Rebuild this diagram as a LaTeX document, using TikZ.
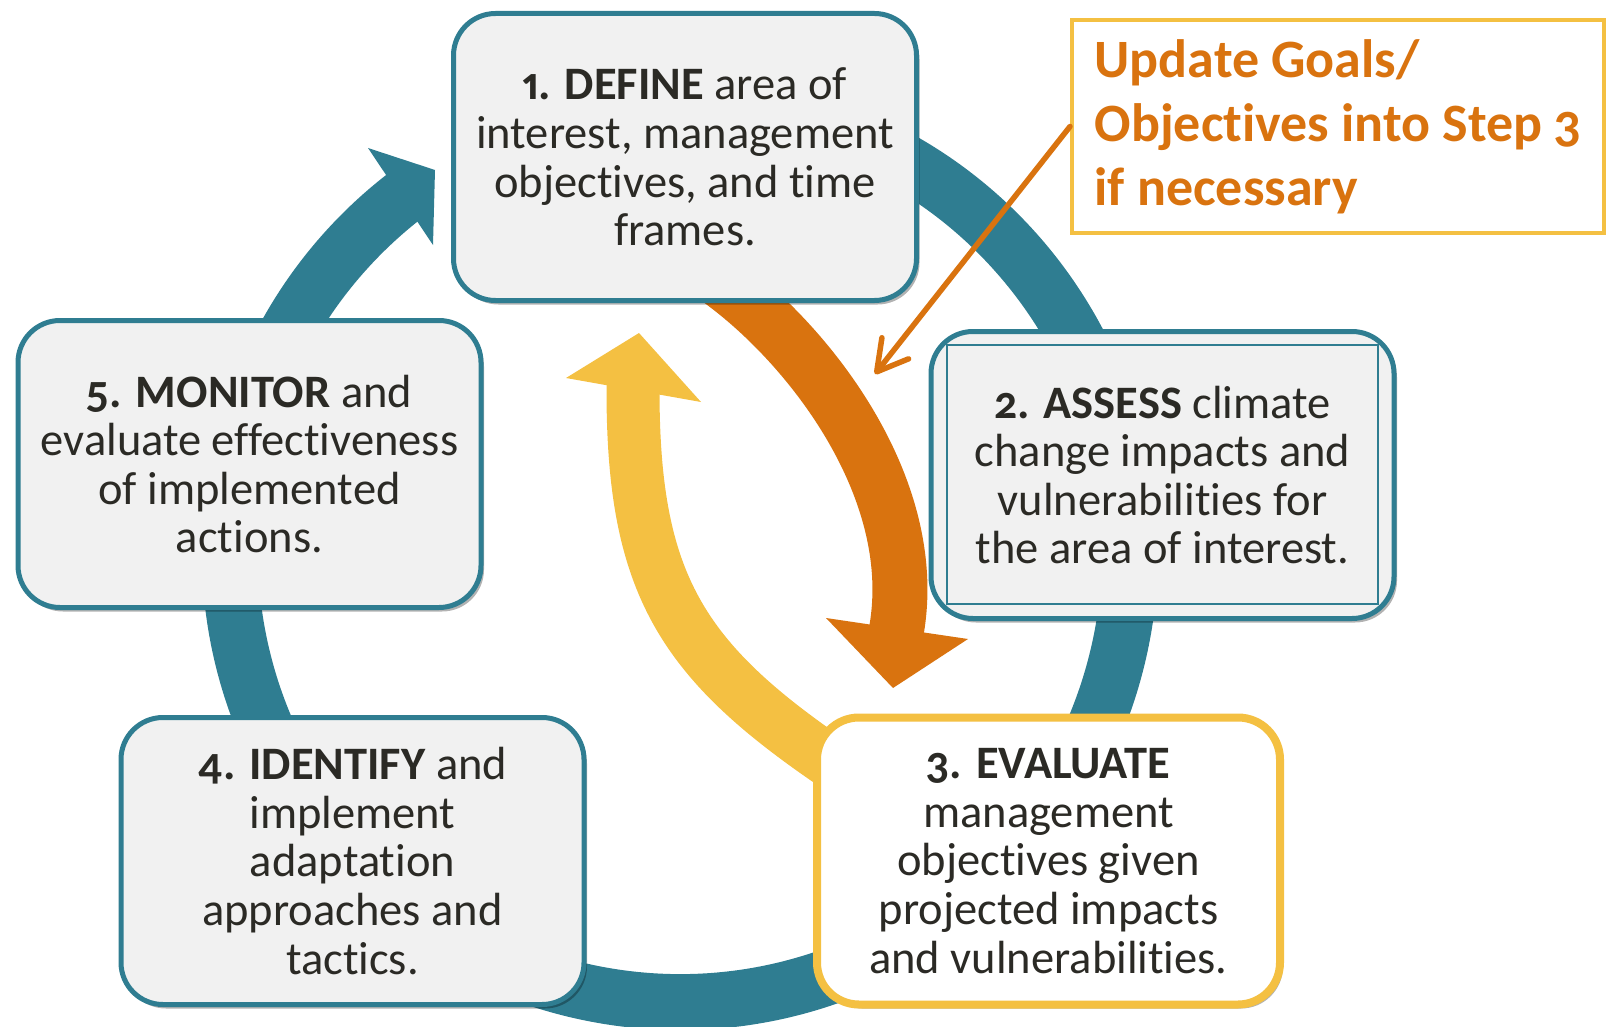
\documentclass[tikz,border=0pt]{standalone}
\usepackage{fontspec}
\setmainfont{Carlito}[Numbers={OldStyle,Proportional}, RawFeature={-liga,-clig,-calt,-dlig}]
\usepackage{tikz}
\usetikzlibrary{arrows.meta, shadows}
\definecolor{loopteal}{RGB}{47,125,145}
\definecolor{stepgold}{RGB}{244,192,66}
\definecolor{steporange}{RGB}{217,115,15}
\definecolor{boxgray}{RGB}{241,241,241}
\definecolor{inktext}{RGB}{43,42,37}
\def\stepfont{\fontsize{46.5}{48.6}\selectfont}
\def\hintfont{\fontsize{54}{64}\selectfont\bfseries}

\tikzset{
  stepbox/.style={draw=loopteal, line width=5pt, fill=boxgray, rounded corners=42pt,
    minimum width=463pt, minimum height=287pt, align=center, text=inktext, font=\stepfont,
    drop shadow={shadow xshift=3pt, shadow yshift=-4pt, fill=black, opacity=0.3}},
  evalbox/.style={stepbox, draw=stepgold, line width=8pt, fill=white},
  hintbox/.style={draw=stepgold, line width=4pt, fill=white, minimum width=532pt,
    minimum height=213pt, align=left, text=steporange, font=\hintfont},
  hintline/.style={steporange, line width=5.5pt, line cap=round,
    -{Straight Barb[length=30pt, width=34pt, round]}}
}

\begin{document}
\begin{tikzpicture}[x=1pt, y=-1pt]
  \useasboundingbox (0,0) rectangle (1608,1027);
  \coordinate (hub) at (680,552);
  \coordinate (hinttip) at (875,374);
  % the cycle
  \draw[loopteal, line width=56pt] (hub) ++(-75:450) arc[start angle=-75, end angle=234, radius=450];
  \fill[loopteal] (368,148) -- (435,170) -- (433,245) -- cycle;
  % back and forth between 1 and 3
  \draw[steporange, line width=55pt] (685,254) -- (725,284) .. controls (813,350) and (919,489) .. (897,627) -- (896,634);
  \fill[steporange] (826,618) -- (893,688) -- (968,639) -- cycle;
  \draw[stepgold, line width=53pt] (633,375) -- (633,390) .. controls (633,590) and (684,665) .. (850,775) -- (880,795);
  \fill[stepgold] (566,378) -- (639,333) -- (701,402) -- cycle;

  \node[stepbox] (define) at (685,157) {\textbf{1. DEFINE} area of\\interest, management\\objectives, and time\\frames.};
  \node[stepbox] (assess) at (1162.5,475) {\textbf{2. ASSESS} climate\\change impacts and\\vulnerabilities for\\the area of interest.};
  \draw[loopteal, line width=1.5pt] ([xshift=18.5pt,yshift=-16pt]assess.north west) rectangle ([xshift=-18.5pt,yshift=17pt]assess.south east);
  \node[evalbox] (evaluate) at (1048.5,861) {\textbf{3. EVALUATE}\\management\\objectives given\\projected impacts\\and vulnerabilities.};
  \node[stepbox] (identify) at (352.5,861) {\textbf{4. IDENTIFY} and\\implement\\adaptation\\approaches and\\tactics.};
  \node[stepbox] (monitor) at (249.5,464) {\textbf{5. MONITOR} and\\evaluate effectiveness\\of implemented\\actions.};

  \node[hintbox] (hint) at (1338,126.5) {Update Goals/\\Objectives into Step 3\\if necessary};
  \draw[hintline] (hint.west) -- (hinttip);
\end{tikzpicture}
\end{document}
